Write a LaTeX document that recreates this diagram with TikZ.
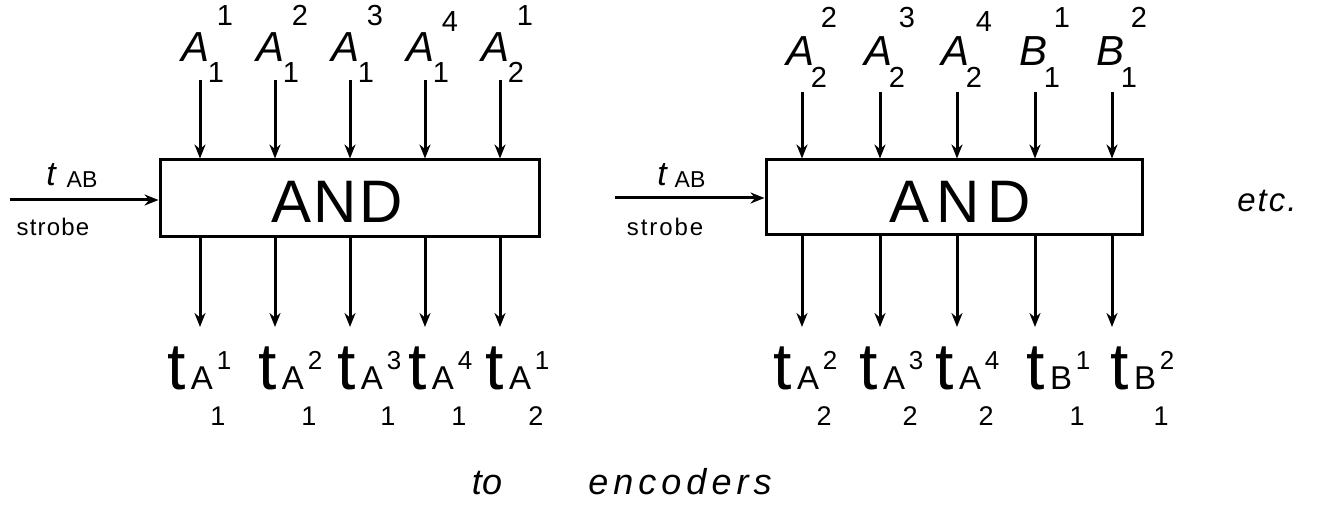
\documentclass[tikz,border=0pt]{standalone}
\usepackage{fontspec}
\setmainfont{Liberation Sans}
\setsansfont{Liberation Sans}
\usetikzlibrary{arrows.meta}
\newcommand\fs[1]{\fontsize{#1}{#1}\selectfont}
\begin{document}
\begin{tikzpicture}[x=1pt,y=-1pt,
  lbl/.style={inner sep=0pt, anchor=base},
  bigA/.style={lbl, font=\itshape\fs{42}},
  topnum/.style={lbl, font=\fs{29}},
  tlet/.style={lbl, font=\fs{66}},
  subA/.style={lbl, font=\fs{33}},
  supn/.style={lbl, font=\fs{26}},
  subn/.style={lbl, font=\fs{27}},
  andbox/.style={draw, line width=3pt, inner sep=0pt},
  andtxt/.style={lbl, font=\fs{60}},
  sig/.style={line width=3pt, -{Stealth[length=14pt,width=11pt]}},
  strb/.style={lbl, font=\addfontfeature{LetterSpace=5}\fs{24}},
  tab/.style={lbl, font=\itshape\fs{34}},
  ab/.style={lbl, font=\fs{23}},
  note/.style={lbl, font=\itshape\fs{36}},
]
\useasboundingbox (0,0) rectangle (1325,510);

% boxes
\node[andbox, minimum width=379pt, minimum height=77pt] (L) at (349.5,198.5) {};
\node[andbox, minimum width=376pt, minimum height=75pt] (R) at (954,197.5) {};
\node[andtxt, font=\addfontfeature{LetterSpace=4}\fs{60}] (andL) at (337,223) {AND};
\node[andtxt, font=\addfontfeature{LetterSpace=12}\fs{60}] (andR) at (960,223) {AND};

% strobe inputs
\coordinate (sL) at (10,200);
\draw[sig] (sL) -- (sL -| L.west);
\node[tab] (tL) at (51,186) {t};
\node[ab] (abL) at (82,188) {AB};
\node[strb] (stL) at (53,236) {strobe};
\coordinate (sR) at (615,198);
\draw[sig] (sR) -- (sR -| R.west);
\node[tab] (tR) at (662,186) {t};
\node[ab] (abR) at (690,188) {AB};
\node[strb, font=\addfontfeature{LetterSpace=8}\fs{24}] (stR) at (665,236) {strobe};

% left top inputs
\foreach \i/\X/\b/\p/\py/\s in {1/200/A/1/26/1, 2/275/A/2/26/1, 3/350/A/3/26/1, 4/425/A/4/32/1, 5/500/A/1/26/2}{
  \coordinate (tiL\i) at (\X,80);
  \draw[sig] (tiL\i) -- (tiL\i |- L.north);
  \node[bigA] (aL\i) at (\X-4,62) {\b};
  \node[topnum] (apL\i) at (\X+25,\py) {\p};
  \node[topnum] (asL\i) at (\X+16,83) {\s};
  \coordinate (boL\i) at (\X,327);
  \draw[sig] (boL\i |- L.south) -- (boL\i);
}
% right top inputs
\foreach \i/\X/\b/\p/\py/\s in {1/802/A/2/28/2, 2/880/A/3/28/2, 3/957/A/4/32/2, 4/1035/B/1/28/1, 5/1112/B/2/28/1}{
  \coordinate (tiR\i) at (\X,92);
  \draw[sig] (tiR\i) -- (tiR\i |- R.north);
  \node[bigA] (aR\i) at (\X-2,66) {\b};
  \node[topnum] (apR\i) at (\X+27,\py) {\p};
  \node[topnum] (asR\i) at (\X+17,88) {\s};
  \coordinate (boR\i) at (\X,327);
  \draw[sig] (boR\i |- R.south) -- (boR\i);
}

% left outputs labels
\foreach \i/\T/\b/\p/\s in {1/177/A/1/1, 2/268/A/2/1, 3/347/A/3/1, 4/418/A/4/1, 5/495/A/1/2}{
  \node[tlet] (otL\i) at (\T,390) {t};
  \node[subA] (oaL\i) at (\T+25,390) {\b};
  \node[supn] (opL\i) at (\T+47,370) {\p};
  \node[subn] (osL\i) at (\T+41,425) {\s};
}
% right outputs labels
\foreach \i/\T/\b/\p/\s in {1/783/A/2/2, 2/869/A/3/2, 3/945/A/4/2, 4/1036/B/1/1, 5/1120/B/2/1}{
  \node[tlet] (otR\i) at (\T,390) {t};
  \node[subA] (oaR\i) at (\T+25,390) {\b};
  \node[supn] (opR\i) at (\T+47,370) {\p};
  \node[subn] (osR\i) at (\T+41,425) {\s};
}

\node[note, font=\itshape\addfontfeature{LetterSpace=6}\fs{33}] (etc) at (1267,212) {etc.};
\node[note] (to) at (487,494) {to};
\node[note, font=\itshape\addfontfeature{LetterSpace=14}\fs{36}] (enc) at (680,494) {encoders};
\end{tikzpicture}
\end{document}
